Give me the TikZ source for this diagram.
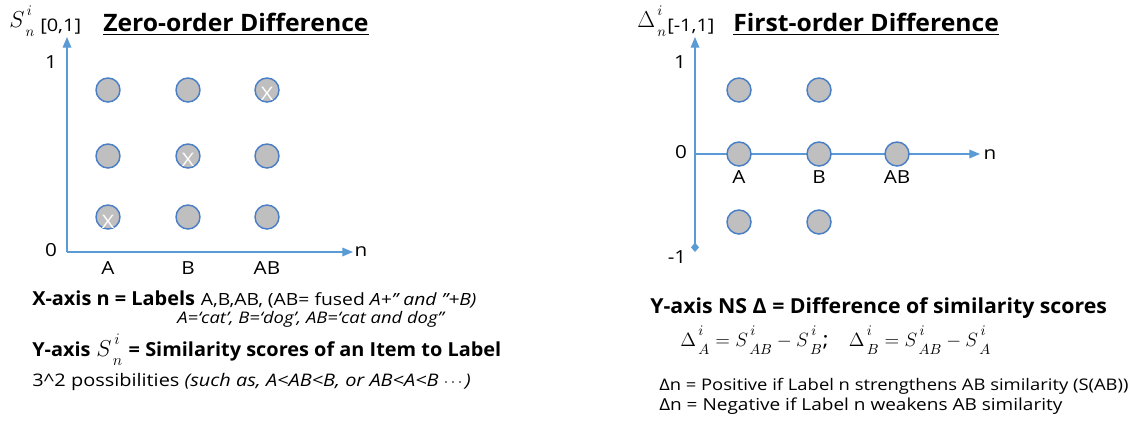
\documentclass[tikz,border=0pt]{standalone}
\usepackage{amsmath}
\usepackage{fontspec}
\setmainfont{Open Sans}[FakeStretch=1.15, BoldFeatures={FakeStretch=1.03}, BoldItalicFeatures={FakeStretch=1.03}]
\usetikzlibrary{arrows.meta}

\definecolor{axisblue}{RGB}{91,155,213}
\definecolor{dotblue}{RGB}{74,126,198}
\definecolor{dotgray}{RGB}{191,191,191}

\newcommand{\simsc}[3]{#1^{\,\raisebox{2.5pt}{$\scriptstyle #2$}}_{\,\raisebox{-3pt}{$\scriptstyle #3$}}}

\tikzset{
  axis/.style={axisblue, line width=0.9pt, -{Triangle[length=8pt,width=6.5pt]}},
  dot/.style={circle, draw=dotblue, fill=dotgray, line width=1.1pt, minimum size=18pt, inner sep=0pt},
  xmark/.style={text=white, font=\fontsize{14}{14}\selectfont, inner sep=0pt},
  tick/.style={font=\fontsize{13.5}{15}\selectfont, inner sep=0pt},
  title/.style={font=\fontsize{18}{20}\selectfont\bfseries, anchor=base west, inner sep=0pt},
  line/.style={font=\fontsize{12}{15}\selectfont, anchor=base west, inner sep=0pt},
  boldline/.style={font=\fontsize{14.5}{17}\selectfont, anchor=base west, inner sep=0pt}
}

\begin{document}
\begin{tikzpicture}[x=0.75pt,y=-0.75pt]
  \useasboundingbox (0,0) rectangle (1136,440);

  \node[anchor=base west, inner sep=0pt, font=\fontsize{16}{18}\selectfont] (zs) at (9,27) {$\simsc{S}{i}{n}$};
  \node[line, font=\fontsize{13}{15}\selectfont] (zr) at (40,31) {[0,1]};
  \node[title] (zt) at (103,31) {\underline{Zero-order Difference}};

  \coordinate (zo) at (67,252);
  \coordinate (zy) at (67,37);
  \coordinate (zx) at (353,252);
  \draw[axis] (zo) -- (zy);
  \draw[axis] (zo) -- (zx);
  \node[tick] (z1) at (51,62) {1};
  \node[tick] (z0) at (51,250) {0};
  \node[tick] (zn) at (361,252) {n};

  \node[dot] (zA3) at (108,90) {};
  \node[dot] (zA2) at (108,156) {};
  \node[dot] (zA1) at (108,217) {};
  \node[dot] (zB3) at (188,90) {};
  \node[dot] (zB2) at (188,156) {};
  \node[dot] (zB1) at (188,217) {};
  \node[dot] (zC3) at (267,90) {};
  \node[dot] (zC2) at (267,156) {};
  \node[dot] (zC1) at (267,217) {};
  \node[xmark] (zxA) at (108,222) {X};
  \node[xmark] (zxB) at (188,160) {X};
  \node[xmark] (zxC) at (267,94) {X};

  \node[tick] (zlA) at (108,268) {A};
  \node[tick] (zlB) at (188,268) {B};
  \node[tick] (zlC) at (267,268) {AB};

  \node[boldline] (zx1) at (32,305) {\textbf{X-axis n = Labels} {\fontsize{12.6}{15}\selectfont A,B,AB, (AB= fused \textit{A+” and ”+B)}}};
  \node[line] (zx2) at (177,323) {\textit{A=‘cat’, B=‘dog’, AB=‘cat and dog”}};
  \node[boldline] (zy1) at (32,356) {\textbf{Y-axis} {\fontsize{17}{19}\selectfont$\simsc{S}{i}{n}$} \textbf{= Similarity scores of an Item to Label}};
  \node[line, font=\fontsize{13}{14}\selectfont] (zy2) at (32,386) {3\^{}2 possibilities \textit{(such as, A<AB<B, or AB<A<B $\cdots$)}};

  \node[anchor=base west, inner sep=0pt, font=\fontsize{16}{18}\selectfont] (fs) at (637,27) {$\simsc{\Delta}{i}{n}$};
  \node[line, font=\fontsize{13}{15}\selectfont] (fr) at (667,31) {[-1,1]};
  \node[title] (ft) at (733,31) {\underline{First-order Difference}};

  \coordinate (fo) at (695,252);
  \coordinate (fy) at (695,37);
  \coordinate (fz) at (695,154);
  \coordinate (fx) at (980,154);
  \draw[axis, {Diamond[length=7pt,width=6pt]}-{Triangle[length=8pt,width=6.5pt]}] (fo) -- (fy);
  \draw[axis] (fz) -- (fx);
  \node[tick] (f1) at (680,62) {1};
  \node[tick] (f0) at (681,152) {0};
  \node[tick] (fm) at (677,257) {-1};
  \node[tick] (fn) at (990,155) {n};

  \node[dot] (fA3) at (739,90) {};
  \node[dot] (fA2) at (739,154) {};
  \node[dot] (fA1) at (739,222) {};
  \node[dot] (fB3) at (819,90) {};
  \node[dot] (fB2) at (819,154) {};
  \node[dot] (fB1) at (819,222) {};
  \node[dot] (fC2) at (897,154) {};

  \node[tick] (flA) at (739,177) {A};
  \node[tick] (flB) at (819,177) {B};
  \node[tick] (flC) at (897,177) {AB};

  \node[boldline, font=\fontsize{15.5}{18}\selectfont] (fy1) at (650,313) {\textbf{Y-axis NS Δ = Difference of similarity scores}};
  \node[line, font=\fontsize{15}{17}\selectfont] (fy2) at (680,346) {$\simsc{\Delta}{i}{A} = \simsc{S}{i}{AB} - \simsc{S}{i}{B}$;\quad $\simsc{\Delta}{i}{B} = \simsc{S}{i}{AB} - \simsc{S}{i}{A}$};
  \node[line] (fy3) at (659,390) {Δn = Positive if Label n strengthens AB similarity (S(AB))};
  \node[line, font=\fontsize{12.4}{15}\selectfont] (fy4) at (659,410) {Δn = Negative if Label n weakens AB similarity};
\end{tikzpicture}
\end{document}
